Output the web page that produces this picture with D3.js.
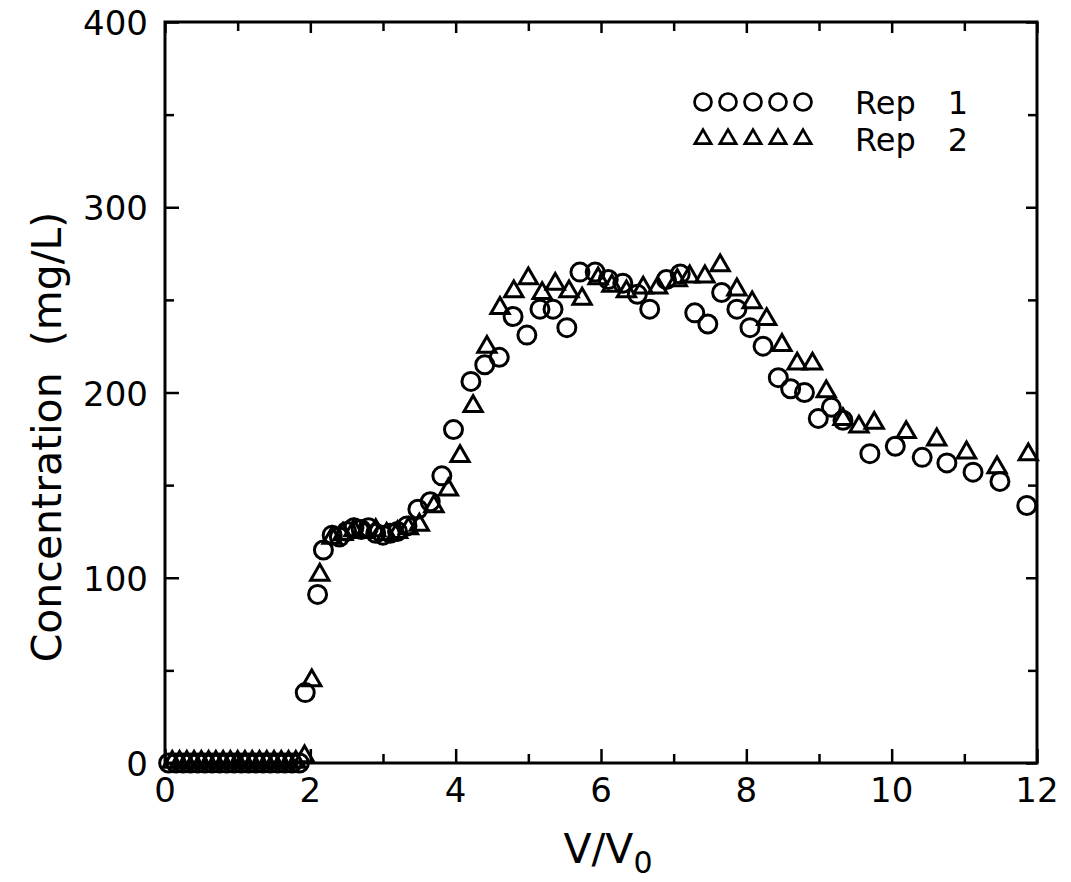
<!DOCTYPE html>
<html>
<head>
<meta charset="UTF-8">
<title>Concentration vs V/V0</title>
<script src="https://d3js.org/d3.v7.min.js"></script>
<style>
body { margin: 0; background: #fff; }
svg { font-family: 'DejaVu Sans', sans-serif; }
</style>
</head>
<body>
<script>
// Rep 1 (circles): V/V0 and concentration (mg/L)
var rep1X = [0.05,0.15,0.25,0.35,0.45,0.55,0.65,0.75,0.85,0.95,1.05,1.15,1.25,1.35,1.45,1.55,1.65,1.75,1.85,
  1.93,2.1,2.18,2.3,2.4,2.5,2.6,2.7,2.8,2.9,3.0,3.1,3.2,3.33,3.48,3.65,3.81,3.97,
  4.21,4.4,4.6,4.79,4.98,5.16,5.34,5.53,5.71,5.92,6.1,6.3,6.5,6.67,6.9,7.09,7.29,7.47,7.66,7.87,
  8.05,8.23,8.44,8.61,8.8,8.99,9.17,9.33,9.7,10.05,10.42,10.76,11.12,11.49,11.86];
var rep1Y = [0,0,0,0,0,0,0,0,0,0,0,0,0,0,0,0,0,0,0,
  38,91,115,123,122,125,127,126,127,124,123,124,125,128,137,141,155,180,
  206,215,219,241,231,245,245,235,265,265,261,259,253,245,261,264,243,237,254,245,
  235,225,208,202,200,186,192,185,167,171,165,162,157,152,139];

// Rep 2 (triangles)
var rep2X = [0.1,0.2,0.3,0.4,0.5,0.6,0.7,0.8,0.9,1.0,1.1,1.2,1.3,1.4,1.5,1.6,1.7,1.8,1.92,
  2.02,2.13,2.3,2.45,2.6,2.75,2.9,3.05,3.2,3.35,3.5,3.7,3.9,4.06,4.24,4.43,4.61,4.8,5.0,5.19,5.37,5.56,5.74,
  5.96,6.15,6.35,6.58,6.78,7.05,7.22,7.43,7.64,7.87,8.08,8.28,8.49,8.7,8.91,9.1,9.33,9.55,9.76,
  10.2,10.62,11.03,11.45,11.88];
var rep2Y = [0,0,0,0,0,0,0,0,0,0,0,0,0,0,0,0,0,0,3,
  44,101,121,123,125,124,125,123,124,126,128,138,147,165,192,224,245,254,261,253,258,254,250,
  261,257,254,256,256,260,262,262,268,255,248,239,225,215,215,200,185,181,183,
  178,174,167,159,166];

var xTicks = [0,2,4,6,8,10,12];
var yTicks = [0,100,200,300,400];
var legendLabels = ["Rep", "Rep"];
var legendNums = ["1", "2"];

var W = 1071, H = 882;
var mLeft = 165, mRight = 1037, mTop = 22, mBottom = 763;

var svg = d3.select("body").append("svg")
    .attr("width", W)
    .attr("height", H);

var x = d3.scaleLinear().domain([0, 12]).range([mLeft, mRight]);
var y = d3.scaleLinear().domain([0, 400]).range([mBottom, mTop]);

// inward ticks on all four sides, major and minor
var xMinor = d3.range(1, 12, 2);
var yMinor = d3.range(50, 400, 100);

function tickAxis(axis, ticks, len) {
    return axis.tickValues(ticks).tickSize(len).tickFormat("");
}

var g = svg.append("g");

g.append("g").attr("transform", "translate(0," + mBottom + ")").call(tickAxis(d3.axisTop(x), xTicks, 14));
g.append("g").attr("transform", "translate(0," + mBottom + ")").call(tickAxis(d3.axisTop(x), xMinor, 9));
g.append("g").attr("transform", "translate(0," + mTop + ")").call(tickAxis(d3.axisBottom(x), xTicks, 11));
g.append("g").attr("transform", "translate(0," + mTop + ")").call(tickAxis(d3.axisBottom(x), xMinor, 9));
g.append("g").attr("transform", "translate(" + mLeft + ",0)").call(tickAxis(d3.axisRight(y), yTicks, 14));
g.append("g").attr("transform", "translate(" + mLeft + ",0)").call(tickAxis(d3.axisRight(y), yMinor, 9));
g.append("g").attr("transform", "translate(" + mRight + ",0)").call(tickAxis(d3.axisLeft(y), yTicks, 11));
g.append("g").attr("transform", "translate(" + mRight + ",0)").call(tickAxis(d3.axisLeft(y), yMinor, 9));
g.selectAll(".domain").remove();
g.selectAll("line").attr("stroke", "#000").attr("stroke-width", 2.5);

svg.append("rect")
    .attr("x", mLeft).attr("y", mTop)
    .attr("width", mRight - mLeft).attr("height", mBottom - mTop)
    .attr("fill", "none").attr("stroke", "#000").attr("stroke-width", 3);

// tick labels
svg.append("g").selectAll("text").data(xTicks).join("text")
    .attr("x", d => x(d)).attr("y", mBottom + 39)
    .attr("text-anchor", "middle").attr("font-size", 34)
    .text(d => d);
svg.append("g").selectAll("text").data(yTicks).join("text")
    .attr("x", mLeft - 17).attr("y", d => y(d) + 13)
    .attr("text-anchor", "end").attr("font-size", 34)
    .text(d => d);

// axis titles
svg.append("text")
    .attr("transform", "translate(61,437) rotate(-90)")
    .attr("text-anchor", "middle").attr("font-size", 41)
    .text("Concentration\u00a0\u00a0(mg/L)");
var xt = svg.append("text")
    .attr("x", 608).attr("y", 863)
    .attr("text-anchor", "middle").attr("font-size", 41);
xt.append("tspan").text("V/V");
xt.append("tspan").attr("font-size", 30).attr("dy", 10).text("0");

// markers
var sym = d3.symbol().type(d3.symbolTriangle).size(145);

svg.append("g").selectAll("circle").data(rep1X).join("circle")
    .attr("cx", d => x(d))
    .attr("cy", (d, i) => y(rep1Y[i]))
    .attr("r", 9)
    .attr("fill", "none").attr("stroke", "#000").attr("stroke-width", 3);

svg.append("g").selectAll("path").data(rep2X).join("path")
    .attr("d", sym)
    .attr("transform", (d, i) => "translate(" + x(d) + "," + (y(rep2Y[i]) - 1) + ")")
    .attr("fill", "none").attr("stroke", "#000").attr("stroke-width", 3);

// legend
var legend = svg.append("g");
legend.selectAll("circle").data(d3.range(5)).join("circle")
    .attr("cx", d => 703 + d * 25).attr("cy", 102)
    .attr("r", 8.5)
    .attr("fill", "none").attr("stroke", "#000").attr("stroke-width", 2.7);
legend.selectAll("path").data(d3.range(5)).join("path")
    .attr("d", d3.symbol().type(d3.symbolTriangle).size(115))
    .attr("transform", d => "translate(" + (703 + d * 25) + ",139)")
    .attr("fill", "none").attr("stroke", "#000").attr("stroke-width", 2.7);
legend.selectAll("text.lab").data(legendLabels).join("text")
    .attr("class", "lab")
    .attr("x", 855).attr("y", (d, i) => 114 + i * 37)
    .attr("font-size", 32).text(d => d);
legend.selectAll("text.num").data(legendNums).join("text")
    .attr("class", "num")
    .attr("x", 958).attr("y", (d, i) => 114 + i * 37)
    .attr("text-anchor", "middle")
    .attr("font-size", 32).text(d => d);
</script>
</body>
</html>
